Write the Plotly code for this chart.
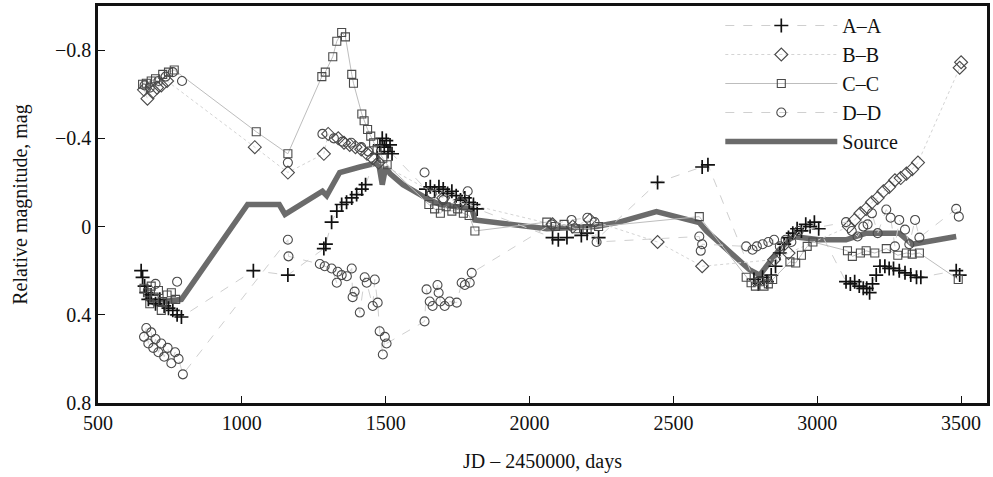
import plotly.graph_objects as go

# ---------------- data ----------------
src_x = [665, 700, 740, 790, 1020, 1130, 1150, 1280, 1295, 1340, 1410, 1475, 1488, 1500, 1515,
         1560, 1653, 1690, 1800, 1810, 2060, 2232, 2312, 2441, 2590, 2615, 2764, 2800, 2868,
         2913, 3007, 3100, 3170, 3285, 3330, 3483]
src_y = [0.32, 0.35, 0.34, 0.33, -0.10, -0.10, -0.055, -0.16, -0.14, -0.245, -0.27, -0.29, -0.19,
         -0.27, -0.24, -0.19, -0.12, -0.10, -0.08, -0.03, 0.01, 0.0, -0.02, -0.068, -0.018, 0.02,
         0.195, 0.22, 0.105, 0.045, 0.06, 0.06, 0.03, 0.03, 0.08, 0.045]

a_x = [650, 655, 662, 668, 675, 685, 700, 715, 730, 745, 760, 775, 790,
       1040, 1160, 1285, 1292, 1312, 1330, 1347, 1364, 1382, 1399, 1417, 1430,
       1470, 1480, 1488, 1495, 1502, 1508, 1515, 1522,
       1640, 1655, 1670, 1685, 1700, 1715, 1730, 1745, 1760, 1775, 1790, 1805, 1818,
       2080, 2100, 2130, 2180, 2200, 2240,
       2445, 2600, 2620,
       2780, 2795, 2810, 2825, 2840, 2855, 2870, 2885, 2900, 2915, 2930, 2945, 2960, 2975, 2990, 3005,
       3100, 3115, 3130, 3146, 3160, 3172, 3182, 3192, 3205, 3218, 3235, 3250, 3265, 3285, 3305,
       3325, 3345, 3360,
       3483, 3495]
a_y = [0.20, 0.23, 0.27, 0.30, 0.33, 0.31, 0.35, 0.33, 0.36, 0.37, 0.38, 0.40, 0.41,
       0.20, 0.22, 0.10, 0.08, -0.02, -0.07, -0.10, -0.11, -0.13, -0.145, -0.17, -0.19,
       -0.33, -0.37, -0.40, -0.36, -0.39, -0.34, -0.37, -0.33,
       -0.17, -0.18, -0.16, -0.18, -0.17, -0.15, -0.16, -0.14, -0.12, -0.13, -0.11, -0.10, -0.08,
       0.05, 0.06, 0.05, 0.04, 0.03, 0.05,
       -0.20, -0.27, -0.28,
       0.24, 0.26, 0.23, 0.25, 0.22, 0.18, 0.12, 0.08, 0.05, 0.03, 0.01, 0.02, -0.01, 0.0, -0.02, 0.01,
       0.25, 0.26, 0.25, 0.27, 0.28, 0.28, 0.30, 0.26, 0.22, 0.18, 0.18, 0.19, 0.19, 0.20, 0.21,
       0.22, 0.23, 0.23,
       0.20, 0.22]

b_x = [660, 672, 690, 705, 720, 740,
       1045, 1160, 1285, 1300, 1335, 1355, 1375, 1395, 1415, 1435, 1455, 1475,
       1700, 1760,
       2080, 2150, 2210,
       2445, 2600,
       2850, 2900,
       3110, 3130, 3150, 3170, 3190, 3210, 3230, 3250, 3270, 3290, 3310, 3330, 3350,
       3495, 3500]
b_y = [-0.62, -0.58, -0.61, -0.63, -0.64, -0.66,
       -0.36, -0.245, -0.33, -0.42, -0.40, -0.38, -0.37, -0.36, -0.35, -0.33, -0.31, -0.29,
       -0.13, -0.11,
       -0.01, 0.0, -0.03,
       0.07, 0.18,
       0.15, 0.12,
       0.0, -0.03, -0.06, -0.08, -0.11, -0.13, -0.16, -0.18, -0.21, -0.22, -0.24, -0.26, -0.29,
       -0.72, -0.745]

c_x = [655, 668, 685, 700, 725, 745, 765,
       1050, 1160, 1278, 1290, 1316, 1330, 1347, 1360, 1382, 1388, 1417, 1425, 1437, 1448, 1458,
       1470, 1490, 1505,
       1650, 1670, 1690, 1710, 1730, 1750, 1770, 1790, 1810,
       2060, 2090, 2120, 2160, 2200, 2240,
       2590,
       2753, 2770, 2785, 2800, 2815, 2830, 2845,
       2905, 2925, 2945, 2965, 2985,
       3105, 3122, 3150, 3170, 3200, 3240, 3280, 3310, 3330, 3355,
       3490]
c_y = [-0.645, -0.65, -0.66, -0.67, -0.69, -0.70, -0.71,
       -0.43, -0.33, -0.68, -0.70, -0.77, -0.84, -0.88, -0.86, -0.69, -0.65, -0.51, -0.48, -0.44,
       -0.41, -0.38, -0.35, -0.31, -0.28,
       -0.10, -0.08, -0.06, -0.09, -0.07, -0.08, -0.06, -0.05, 0.02,
       -0.02, 0.0, -0.01, 0.01, 0.01, 0.0,
       -0.045,
       0.23, 0.255, 0.27, 0.25, 0.27, 0.26, 0.24,
       0.16, 0.165, 0.13, 0.09, 0.07,
       0.11, 0.135, 0.12, 0.11, 0.12, 0.10, 0.13, 0.12, 0.125, 0.12,
       0.24]
c2_x = [660, 672, 680, 685, 695, 710, 720, 725, 740, 755, 770]
c2_y = [0.28, 0.30, 0.35, 0.27, 0.32, 0.29, 0.38, 0.34, 0.31, 0.30, 0.33]

d_x = [660, 668, 675, 685, 692, 700, 710, 720, 730, 742, 755, 768, 780, 795,
       1160, 1162,
       1271, 1288, 1312, 1330, 1333, 1347, 1365, 1382, 1385, 1392, 1410, 1427, 1434, 1455, 1462,
       1472, 1479, 1490, 1497, 1503,
       1635, 1642, 1653, 1663, 1680, 1684, 1690, 1705, 1722, 1747, 1764, 1775, 1792, 1799,
       2076, 2146, 2201, 2226, 2233,
       2590, 2595, 2600,
       2753, 2775, 2790, 2810, 2830, 2850, 2870, 2890, 2910, 2935,
       3100, 3120, 3140, 3160, 3175, 3190, 3210, 3240, 3255, 3270, 3285, 3305, 3320, 3340, 3355,
       3483, 3492]
d_y = [0.50, 0.46, 0.53, 0.48, 0.55, 0.51, 0.57, 0.53, 0.59, 0.55, 0.62, 0.57, 0.60, 0.67,
       0.06, 0.135,
       0.17, 0.18, 0.19, 0.255, 0.205, 0.22, 0.225, 0.19, 0.32, 0.295, 0.39, 0.23, 0.255, 0.36, 0.24,
       0.345, 0.475, 0.58, 0.50, 0.53,
       0.43, 0.285, 0.34, 0.36, 0.265, 0.30, 0.34, 0.36, 0.34, 0.345, 0.255, 0.265, 0.255, 0.21,
       -0.01, -0.03, -0.04, -0.02, 0.07,
       0.045, 0.11, 0.08,
       0.09, 0.105, 0.09, 0.08, 0.07, 0.06, 0.09, 0.06, 0.07, 0.02,
       -0.02, 0.02, 0.045, 0.0, -0.01, -0.06, 0.03, -0.077, -0.04, 0.09, -0.03, 0.014, 0.08, -0.03, 0.05,
       -0.08, -0.045]
d2_x = [662, 680, 710, 735, 760, 792, 700, 775, 1160, 1280, 1320, 1350, 1380, 1415, 1440,
        1635, 1660, 1700, 1785]
d2_y = [-0.64, -0.63, -0.66, -0.68, -0.70, -0.66, 0.26, 0.25, -0.29, -0.42, -0.40, -0.385, -0.38,
        -0.36, -0.34, -0.245, -0.15, -0.12, -0.16]

x_ticks = [500, 1000, 1500, 2000, 2500, 3000, 3500]
y_ticks = [-0.8, -0.4, 0, 0.4, 0.8]

# ---------------- styles ----------------
FONT = "Liberation Serif, Times New Roman, serif"
MK = "#4a4a4a"

fig = go.Figure()

fig.add_trace(go.Scatter(
    x=src_x, y=src_y, mode="lines", name="Source", legendrank=5,
    line=dict(color="#6b6b6b", width=5.5)))

fig.add_trace(go.Scatter(
    x=a_x, y=a_y, mode="lines+markers", name="A–A", legendrank=1,
    line=dict(color="#cfcfcf", width=1, dash="dash"),
    marker=dict(symbol="cross-thin-open", size=10, color="#111",
                line=dict(color="#111", width=1.7))))

fig.add_trace(go.Scatter(
    x=b_x, y=b_y, mode="lines+markers", name="B–B", legendrank=2,
    line=dict(color="#d4d4d4", width=1, dash="dot"),
    marker=dict(symbol="diamond-open", size=10, color=MK, line=dict(color=MK, width=1.1))))

fig.add_trace(go.Scatter(
    x=c_x, y=c_y, mode="lines+markers", name="C–C", legendrank=3,
    line=dict(color="#bdbdbd", width=1),
    marker=dict(symbol="square-open", size=8, color=MK, line=dict(color=MK, width=1.1))))
fig.add_trace(go.Scatter(
    x=c2_x, y=c2_y, mode="markers", name="C–C", showlegend=False,
    marker=dict(symbol="square-open", size=8, color=MK, line=dict(color=MK, width=1.1))))

fig.add_trace(go.Scatter(
    x=d_x, y=d_y, mode="lines+markers", name="D–D", legendrank=4,
    line=dict(color="#d0d0d0", width=1, dash="dash"),
    marker=dict(symbol="circle-open", size=9, color=MK, line=dict(color=MK, width=1.1))))
fig.add_trace(go.Scatter(
    x=d2_x, y=d2_y, mode="markers", name="D–D", showlegend=False,
    marker=dict(symbol="circle-open", size=9, color=MK, line=dict(color=MK, width=1.1))))

axis_common = dict(
    showgrid=False, zeroline=False, showline=True, linecolor="#111", linewidth=2.5,
    mirror=True, ticks="inside", ticklen=7, tickwidth=1, tickcolor="#111",
    tickfont=dict(family=FONT, size=20, color="#111"),
)

fig.update_xaxes(range=[500, 3590], tickvals=x_ticks, ticktext=[str(v) for v in x_ticks],
                 title=dict(text="JD – 2450000, days", font=dict(family=FONT, size=20, color="#111"),
                            standoff=22),
                 **axis_common)
fig.update_yaxes(range=[0.8, -1.0], tickvals=y_ticks,
                 ticktext=["−0.8", "−0.4", "0", "0.4", "0.8"],
                 title=dict(text="Relative magnitude, mag", font=dict(family=FONT, size=20, color="#111"),
                            standoff=22),
                 **axis_common)

fig.update_layout(
    width=993, height=477,
    margin=dict(l=98, r=5, t=3, b=74),
    paper_bgcolor="white", plot_bgcolor="white",
    font=dict(family=FONT, size=20, color="#111"),
    legend=dict(x=0.70, y=1.0, xanchor="left", yanchor="top",
                bgcolor="rgba(255,255,255,0)", borderwidth=0,
                font=dict(family=FONT, size=20, color="#111"),
                itemwidth=112, tracegroupgap=0),
    showlegend=True,
)

fig.write_html("out.html")
